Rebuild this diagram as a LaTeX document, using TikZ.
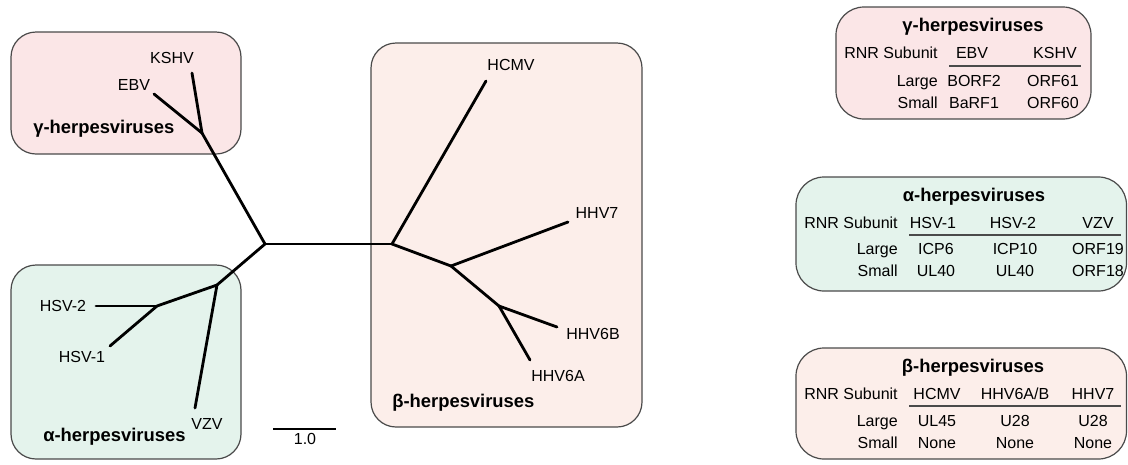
\documentclass[tikz,border=0pt]{standalone}
\usepackage{fontspec}
\setmainfont{Liberation Sans}
\usepackage{xcolor}
\usetikzlibrary{calc}
\usetikzlibrary{positioning}
\definecolor{gpink}{HTML}{FBE6E7}
\definecolor{bpeach}{HTML}{FCEEEA}
\definecolor{agreen}{HTML}{E4F3EC}
\definecolor{edge}{HTML}{4A4A4A}

\begin{document}
\begin{tikzpicture}[x=1pt,y=-1pt,semithick]
				\tikzstyle{grp}=[draw=edge, line width=1.2pt, rounded corners=25pt]
				\tikzstyle{branch}=[line width=2.8pt, line cap=round, line join=round]
				\tikzstyle{leaf}=[font=\fontsize{16}{19}\selectfont, inner sep=0pt, yshift=-1.6pt]
				\tikzstyle{title}=[font=\fontsize{18.4}{22}\selectfont\bfseries, inner sep=0pt, anchor=mid, yshift=-1.8pt]
				\tikzstyle{cell}=[leaf, anchor=mid]
				\tikzstyle{rowname}=[leaf, anchor=mid east]
				\tikzstyle{rule}=[draw=edge, line width=1.4pt]
				\useasboundingbox (0,0) rectangle (1128,464);

				% clade boxes
				\draw[grp, fill=gpink] (11,32) rectangle (241,154);
				\draw[grp, fill=agreen] (11,265) rectangle (241,459);
				\draw[grp, fill=bpeach] (371,43) rectangle (642,427);
				\node[title, anchor=mid west] (gam) at (33,129) {γ-herpesviruses};
				\node[title, anchor=mid west] (alp) at (43,437) {α-herpesviruses};
				\node[title, anchor=mid west] (bet) at (392,403) {β-herpesviruses};

				% tree
				\coordinate (R) at (265,244);
				\coordinate (G) at (202,133);
				\coordinate (A1) at (217,285);
				\coordinate (A2) at (157,306);
				\coordinate (B1) at (392,244);
				\coordinate (B2) at (451,266);
				\coordinate (B3) at (499,306);
				\coordinate (kshv) at (192,73);
				\coordinate (ebv) at (154,94);
				\coordinate (vzv) at (195,408);
				\coordinate (hsv2) at (96,306);
				\coordinate (hsv1) at (110,346);
				\coordinate (hcmv) at (486,81);
				\coordinate (hhv7) at (568,222);
				\coordinate (hhv6b) at (557,327);
				\coordinate (hhv6a) at (530,360);
				\foreach \i/\j in {R/G,G/kshv,G/ebv,R/A1,A1/vzv,A1/A2,A2/hsv2,A2/hsv1,R/B1,B1/hcmv,B1/B2,B2/hhv7,B2/B3,B3/hhv6b,B3/hhv6a}{
					\draw[branch] (\i) -- (\j);
				}
				\node[cell] (lkshv) at (172,59) {KSHV};
				\node[cell] (lebv) at (134,86) {EBV};
				\node[cell] (lhsv2) at (63,307) {HSV-2};
				\node[cell] (lhsv1) at (82,358) {HSV-1};
				\node[cell] (lvzv) at (207,425) {VZV};
				\node[cell] (lhcmv) at (511,66) {HCMV};
				\node[cell] (lhhv7) at (597,214) {HHV7};
				\node[cell] (lhhv6b) at (593,335) {HHV6B};
				\node[cell] (lhhv6a) at (558,377) {HHV6A};

				% scale bar
				\coordinate (sb1) at (273,429);
				\coordinate (sb2) at (336,429);
				\draw[line width=2pt] (sb1) -- (sb2);
				\node[cell] (sbl) at (305,440) {1.0};

				% gamma table
				\draw[grp, fill=gpink, rounded corners=28pt] (836,7) rectangle (1091,119);
				\node[title] (gT) at (973,27) {γ-herpesviruses};
				\node[rowname] (gH) at (938,54) {RNR Subunit};
				\node[cell] (gH1) at (972,54) {EBV};
				\node[cell] (gH2) at (1055,54) {KSHV};
				\coordinate (gU1) at (949,66);
				\coordinate (gU2) at (1081,66);
				\draw[rule] (gU1) -- (gU2);
				\foreach \lbl/\a/\b [count=\r] in {Large/BORF2/ORF61,Small/BaRF1/ORF60}{
					\node[rowname] (gR\r) at (938,60+22*\r) {\lbl};
					\node[cell] (gA\r) at (974,60+22*\r) {\a};
					\node[cell] (gB\r) at (1053,60+22*\r) {\b};
				}

				% alpha table
				\draw[grp, fill=agreen, rounded corners=28pt] (796,177) rectangle (1126.5,291);
				\node[title] (aT) at (974,197) {α-herpesviruses};
				\node[rowname] (aH) at (898,224) {RNR Subunit};
				\node[cell] (aH1) at (933,224) {HSV-1};
				\node[cell] (aH2) at (1013,224) {HSV-2};
				\node[cell] (aH3) at (1098,224) {VZV};
				\coordinate (aU1) at (909,235);
				\coordinate (aU2) at (1121,235);
				\draw[rule] (aU1) -- (aU2);
				\foreach \lbl/\a/\b/\c [count=\r] in {Large/ICP6/ICP10/ORF19,Small/UL40/UL40/ORF18}{
					\node[rowname] (aR\r) at (898,228+22*\r) {\lbl};
					\node[cell] (aA\r) at (936,228+22*\r) {\a};
					\node[cell] (aB\r) at (1015,228+22*\r) {\b};
					\node[cell] (aC\r) at (1098,228+22*\r) {\c};
				}

				% beta table
				\draw[grp, fill=bpeach, rounded corners=28pt] (796,348) rectangle (1126.5,459);
				\node[title] (bT) at (973,368) {β-herpesviruses};
				\node[rowname] (bH) at (898,395) {RNR Subunit};
				\node[cell] (bH1) at (937,395) {HCMV};
				\node[cell] (bH2) at (1015,395) {HHV6A/B};
				\node[cell] (bH3) at (1093,395) {HHV7};
				\coordinate (bU1) at (909,406);
				\coordinate (bU2) at (1121,406);
				\draw[rule] (bU1) -- (bU2);
				\foreach \lbl/\a/\b/\c [count=\r] in {Large/UL45/U28/U28,Small/None/None/None}{
					\node[rowname] (bR\r) at (898,400+22*\r) {\lbl};
					\node[cell] (bA\r) at (937,400+22*\r) {\a};
					\node[cell] (bB\r) at (1015,400+22*\r) {\b};
					\node[cell] (bC\r) at (1093,400+22*\r) {\c};
				}
\end{tikzpicture}
\end{document}
